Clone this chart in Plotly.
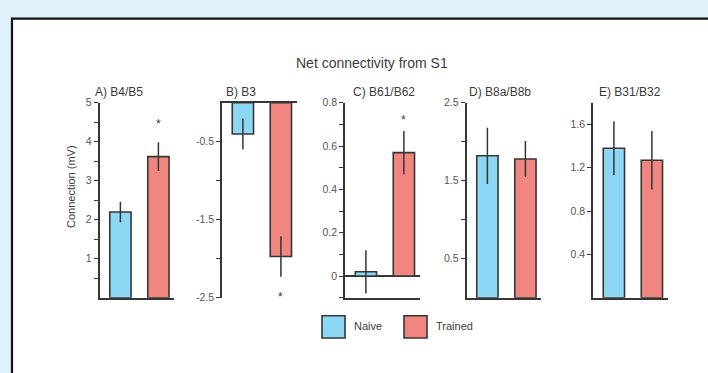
import plotly.graph_objects as go

# Panel labels and group names
panels = ["A) B4/B5", "B) B3", "C) B61/B62", "D) B8a/B8b", "E) B31/B32"]
groups = ["Naive", "Trained"]

# Mean connection strength (mV) and SEM per panel
naive_mean = [2.2, -0.4, 0.02, 1.82, 1.38]
naive_err = [0.26, 0.2, 0.1, 0.36, 0.25]
trained_mean = [3.62, -1.97, 0.57, 1.78, 1.27]
trained_err = [0.37, 0.26, 0.1, 0.23, 0.27]
# Height of the significance marker (None = not significant)
star_y = [4.56, -2.44, 0.74, None, None]

# Y-axis ranges and ticks for each panel
y_ranges = [[0, 5], [-2.5, 0], [-0.1, 0.8], [0, 2.5], [0, 1.8]]
tick_vals = [
    [0.5, 1, 1.5, 2, 2.5, 3, 3.5, 4, 4.5, 5],
    [-0.5, -1, -1.5, -2, -2.5],
    [-0.1, 0, 0.1, 0.2, 0.3, 0.4, 0.5, 0.6, 0.7, 0.8],
    [0.5, 1, 1.5, 2, 2.5],
    [0.4, 0.8, 1.2, 1.6],
]
tick_text = [
    ["", "1", "", "2", "", "3", "", "4", "", "5"],
    ["-0.5", "", "-1.5", "", "-2.5"],
    ["", "0", "", "0.2", "", "0.4", "", "0.6", "", "0.8"],
    ["0.5", "", "1.5", "", "2.5"],
    ["0.4", "0.8", "1.2", "1.6"],
]

W, H = 708, 373
NAIVE_COLOR = "#8cd7f3"
TRAINED_COLOR = "#f0867f"
EDGE = "#363636"
TEXT = "#3c3c3c"
FONT = "Liberation Sans, Arial, sans-serif"


def px(x):
    return x / W


def py(y):
    return 1 - y / H


axis_left = [99.5, 222, 345, 466.5, 593]
title_left = [93, 224, 351, 467, 597]
x_range = [-0.55, 1.42]
unit_px = 38.0
dom_w = (x_range[1] - x_range[0]) * unit_px
y_top, y_bot = 100, 301.5

fig = go.Figure()
layout = {}
annotations = []

for i in range(5):
    sfx = "" if i == 0 else str(i + 1)
    xa, ya = "x" + sfx, "y" + sfx
    for g, (means, errs, color) in enumerate(
        [(naive_mean, naive_err, NAIVE_COLOR), (trained_mean, trained_err, TRAINED_COLOR)]
    ):
        fig.add_trace(go.Bar(
            x=[g], y=[means[i]], xaxis=xa, yaxis=ya,
            width=0.56,
            marker=dict(color=color, line=dict(color=EDGE, width=1.6)),
            error_y=dict(type="data", array=[errs[i]], visible=True,
                         color=EDGE, thickness=1.5, width=0),
            showlegend=False, hoverinfo="skip",
        ))
    x0 = axis_left[i]
    layout["xaxis" + sfx] = dict(
        domain=[px(x0), px(x0 + dom_w)], range=x_range, anchor=ya,
        showline=True, linecolor=EDGE, linewidth=1.6,
        showticklabels=False, ticks="", showgrid=False, zeroline=False,
        side="top" if i == 1 else "bottom", fixedrange=True,
    )
    layout["yaxis" + sfx] = dict(
        domain=[py(y_bot), py(y_top)], range=y_ranges[i], anchor=xa,
        showline=True, linecolor=EDGE, linewidth=1.6,
        tickmode="array", tickvals=tick_vals[i], ticktext=tick_text[i],
        ticks="outside", ticklen=4, tickwidth=1.2, tickcolor=EDGE,
        tickfont=dict(family=FONT, size=10.5, color="#555"),
        showgrid=False,
        zeroline=(i == 2), zerolinecolor=EDGE, zerolinewidth=1.6,
        fixedrange=True,
    )
    # panel title
    annotations.append(dict(
        text=panels[i], xref="paper", yref="paper",
        x=px(title_left[i]), y=py(89), xanchor="left", yanchor="middle",
        showarrow=False, font=dict(family=FONT, size=12, color=TEXT),
    ))
    # significance marker next to the trained bar
    if star_y[i] is not None:
        annotations.append(dict(
            text="*", xref=xa, yref=ya, x=1, y=star_y[i],
            xanchor="center", yanchor="middle", yshift=-4,
            showarrow=False, font=dict(family=FONT, size=12, color=EDGE),
        ))

# figure title and y-axis label
annotations.append(dict(
    text="Net connectivity from S1", xref="paper", yref="paper",
    x=px(372), y=py(59), xanchor="center", yanchor="middle",
    showarrow=False, font=dict(family=FONT, size=14, color=TEXT),
))
annotations.append(dict(
    text="Connection (mV)", xref="paper", yref="paper",
    x=px(71), y=py(187), xanchor="center", yanchor="middle", textangle=-90,
    showarrow=False, font=dict(family=FONT, size=11, color=TEXT),
))

# white framed panel and legend boxes
shapes = [
    dict(type="rect", xref="paper", yref="paper",
         x0=px(12), x1=1.02, y0=-0.02, y1=py(13),
         fillcolor="white", line=dict(color="#111", width=2.2), layer="below"),
]
legend_items = [(groups[0], NAIVE_COLOR, 322), (groups[1], TRAINED_COLOR, 404)]
for name, color, lx in legend_items:
    shapes.append(dict(type="rect", xref="paper", yref="paper",
                       x0=px(lx), x1=px(lx + 23), y0=py(343), y1=py(320),
                       fillcolor=color, line=dict(color=EDGE, width=1.6)))
    annotations.append(dict(
        text=name, xref="paper", yref="paper",
        x=px(lx + 30), y=py(331), xanchor="left", yanchor="middle",
        showarrow=False, font=dict(family=FONT, size=11, color=TEXT),
    ))

fig.update_layout(
    width=W, height=H, margin=dict(l=0, r=0, t=0, b=0),
    paper_bgcolor="#e1f1fb", plot_bgcolor="rgba(0,0,0,0)",
    barmode="group", showlegend=False,
    annotations=annotations, shapes=shapes,
    **layout,
)

fig.write_html("out.html", config={"displayModeBar": False})
